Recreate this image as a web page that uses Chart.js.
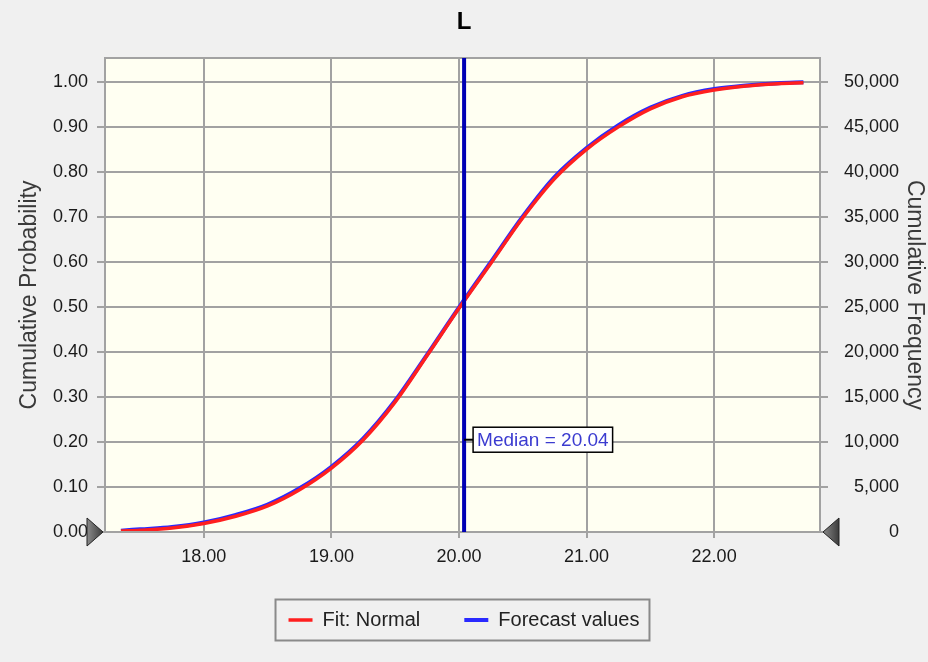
<!DOCTYPE html>
<html>
<head>
<meta charset="utf-8">
<script src="https://cdn.jsdelivr.net/npm/chart.js@4.4.1/dist/chart.umd.min.js"></script>
<style>
  body { margin: 0; background: #f0f0f0; }
  #wrap { width: 928px; height: 662px; }
</style>
</head>
<body>
<div id="wrap"><canvas id="chart" width="928" height="662"></canvas></div>
<script>
const ctx = document.getElementById("chart").getContext("2d");

// Values
const xValues = [17.35, 17.5, 17.75, 18.0, 18.25, 18.5, 18.75, 19.0, 19.25, 19.5, 19.75, 20.0,
  20.25, 20.5, 20.75, 21.0, 21.25, 21.5, 21.75, 22.0, 22.25, 22.5, 22.7];
const fitNormal = [0.002, 0.004, 0.009, 0.019, 0.035, 0.058, 0.094, 0.142, 0.205, 0.289, 0.392, 0.497,
  0.597, 0.698, 0.785, 0.850, 0.900, 0.940, 0.967, 0.982, 0.991, 0.996, 0.998];
const forecastValues = [0.003, 0.006, 0.011, 0.021, 0.038, 0.061, 0.097, 0.145, 0.208, 0.292, 0.394, 0.499,
  0.600, 0.701, 0.789, 0.853, 0.904, 0.943, 0.969, 0.984, 0.992, 0.997, 0.999];

const xTicks = [18, 19, 20, 21, 22];
const probTicks = [0, 0.1, 0.2, 0.3, 0.4, 0.5, 0.6, 0.7, 0.8, 0.9, 1.0];
const freqTicks = [0, 5000, 10000, 15000, 20000, 25000, 30000, 35000, 40000, 45000, 50000];

const medianValue = 20.04;
const medianLabel = "Median = 20.04";

const family = '"Liberation Sans", Arial, sans-serif';
const tickFont = { family: family, size: 18 };
const gridGray = '#a2a2a2';

// plot background
const plotBack = {
  id: 'plotBack',
  beforeDraw(chart) {
    const a = chart.chartArea;
    const c = chart.ctx;
    c.save();
    c.fillStyle = '#fffff2';
    c.fillRect(a.left, a.top, a.right - a.left, a.bottom - a.top);
    c.restore();
  }
};

// median line, label and frame
const medianMark = {
  id: 'medianMark',
  afterDatasetsDraw(chart) {
    const a = chart.chartArea;
    const c = chart.ctx;
    const xs = chart.scales.x;
    const ys = chart.scales.y;
    const mx = xs.getPixelForValue(medianValue);

    c.save();
    c.strokeStyle = gridGray;
    c.lineWidth = 2;
    c.strokeRect(a.left, a.top, a.right - a.left, a.bottom - a.top);

    c.strokeStyle = '#0000b4';
    c.lineWidth = 4;
    c.beginPath();
    c.moveTo(mx, a.top);
    c.lineTo(mx, a.bottom);
    c.stroke();

    const ly = ys.getPixelForValue(0.205);
    c.font = '19px ' + family;
    const w = c.measureText(medianLabel).width + 8;
    const bx = mx + 9;
    c.strokeStyle = '#000';
    c.lineWidth = 2;
    c.beginPath();
    c.moveTo(mx, ly);
    c.lineTo(bx, ly);
    c.stroke();
    c.fillStyle = '#ffffff';
    c.fillRect(bx, ly - 12.5, w, 25);
    c.lineWidth = 1.5;
    c.strokeRect(bx, ly - 12.5, w, 25);
    c.fillStyle = '#3b3bd0';
    c.textBaseline = 'middle';
    c.fillText(medianLabel, bx + 4, ly + 1);
    c.restore();
  },
  afterDraw(chart) {
    const a = chart.chartArea;
    const c = chart.ctx;
    c.save();
    // sliders at both ends of the x axis
    const tri = (tipX, baseX) => {
      const g = c.createLinearGradient(Math.min(tipX, baseX), 0, Math.max(tipX, baseX), 0);
      g.addColorStop(0, '#8a8a8a');
      g.addColorStop(1, '#3c3c3c');
      c.fillStyle = g;
      c.strokeStyle = '#222';
      c.lineWidth = 1;
      c.beginPath();
      c.moveTo(tipX, a.bottom);
      c.lineTo(baseX, a.bottom - 14);
      c.lineTo(baseX, a.bottom + 14);
      c.closePath();
      c.fill();
      c.stroke();
    };
    tri(a.left - 2, a.left - 18);
    tri(a.right + 3, a.right + 19);

    // legend frame
    const boxes = chart.legend.legendHitBoxes;
    if (boxes.length) {
      const left = Math.min(...boxes.map(b => b.left)) - 13;
      const right = Math.max(...boxes.map(b => b.left + b.width)) + 10;
      const mid = boxes[0].top + boxes[0].height / 2;
      c.strokeStyle = '#8a8a8a';
      c.lineWidth = 2;
      c.strokeRect(left, mid - 20.5, right - left, 41);
    }
    c.restore();
  }
};

const data = {
  datasets: [{
    label: 'Fit: Normal',
    data: xValues.map((x, i) => ({ x: x, y: fitNormal[i] })),
    borderColor: '#ff1f1f',
    borderWidth: 3.5,
    pointRadius: 0,
    cubicInterpolationMode: 'monotone'
  }, {
    label: 'Forecast values',
    data: xValues.map((x, i) => ({ x: x, y: forecastValues[i] })),
    borderColor: '#2a2aff',
    borderWidth: 4,
    pointRadius: 0,
    cubicInterpolationMode: 'monotone'
  }]
};

const config = {
  type: 'line',
  data: data,
  plugins: [plotBack, medianMark],
  options: {
    responsive: false,
    animation: false,
    layout: { padding: { top: 0, bottom: 22, left: 29, right: 29 } },
    plugins: {
      tooltip: { enabled: false },
      title: {
        display: true,
        text: 'L',
        color: '#000',
        font: { family: family, size: 24, weight: 'bold' },
        padding: { top: 8, bottom: 21.2 }
      },
      legend: {
        position: 'bottom',
        labels: {
          usePointStyle: true,
          pointStyle: 'line',
          pointStyleWidth: 24,
          padding: 44,
          color: '#222',
          font: { family: family, size: 20 }
        }
      }
    },
    scales: {
      x: {
        type: 'linear',
        min: 17.225,
        max: 22.83,
        afterBuildTicks: s => { s.ticks = xTicks.map(v => ({ value: v })); },
        afterFit: s => { s.height = 34; },
        ticks: { callback: v => v.toFixed(2), font: tickFont, color: '#1a1a1a', padding: 8, maxRotation: 0 },
        grid: { color: gridGray, lineWidth: 2, tickLength: 6 },
        border: { display: false }
      },
      y: {
        type: 'linear',
        position: 'left',
        min: 0,
        max: 1.053,
        afterBuildTicks: s => { s.ticks = probTicks.map(v => ({ value: v })); },
        afterFit: s => { s.width = 76; },
        ticks: { callback: v => v.toFixed(2), font: tickFont, color: '#1a1a1a', padding: 9 },
        grid: { color: gridGray, lineWidth: 2, tickLength: 8 },
        border: { display: false },
        title: {
          display: true,
          text: 'Cumulative Probability',
          color: '#3a3a3a',
          font: { family: family, size: 23 },
          padding: { top: -13, bottom: 0 }
        }
      },
      y1: {
        type: 'linear',
        position: 'right',
        min: 0,
        max: 52650,
        afterBuildTicks: s => { s.ticks = freqTicks.map(v => ({ value: v })); },
        afterFit: s => { s.width = 79; },
        ticks: { callback: v => v.toLocaleString('en-US'), font: tickFont, color: '#1a1a1a', padding: 12, crossAlign: 'far' },
        grid: { drawOnChartArea: false, color: gridGray, lineWidth: 2, tickLength: 8 },
        border: { display: false },
        title: {
          display: true,
          text: 'Cumulative Frequency',
          color: '#3a3a3a',
          font: { family: family, size: 23 },
          padding: { top: -29, bottom: 0 }
        }
      }
    }
  }
};

const chart = new Chart(ctx, config);
</script>
</body>
</html>
